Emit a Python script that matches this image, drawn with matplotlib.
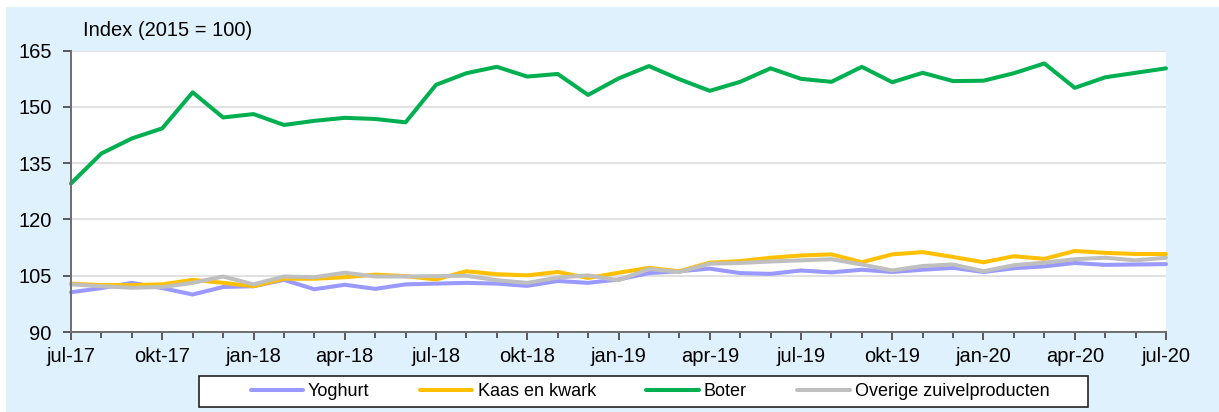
import matplotlib
matplotlib.use('Agg')
import matplotlib.pyplot as plt
from matplotlib.patches import Rectangle
from matplotlib.ticker import MultipleLocator

# maanden jul-17 t/m jul-20
tick_labels = ['jul-17', 'okt-17', 'jan-18', 'apr-18', 'jul-18', 'okt-18', 'jan-19',
               'apr-19', 'jul-19', 'okt-19', 'jan-20', 'apr-20', 'jul-20']

yoghurt = [100.6, 101.7, 103.1, 101.7, 100.0, 102.0, 102.2, 103.9, 101.4, 102.6, 101.5, 102.7,
           102.9, 103.1, 102.9, 102.3, 103.6, 103.1, 104.0, 105.7, 106.2, 106.9, 105.7, 105.5,
           106.4, 105.9, 106.6, 106.0, 106.6, 107.1, 106.0, 107.0, 107.5, 108.4, 107.9, 108.0, 108.1]
kaas = [102.9, 102.5, 102.5, 102.7, 103.9, 103.1, 102.2, 104.2, 104.2, 104.6, 105.3, 104.9,
        104.0, 106.2, 105.4, 105.1, 106.0, 104.4, 105.8, 107.1, 106.2, 108.5, 108.9, 109.8,
        110.4, 110.7, 108.6, 110.7, 111.3, 110.0, 108.6, 110.2, 109.5, 111.6, 111.1, 110.8, 110.8]
boter = [129.6, 137.6, 141.6, 144.3, 153.9, 147.2, 148.1, 145.2, 146.3, 147.1, 146.8, 145.9,
         155.9, 159.0, 160.7, 158.1, 158.8, 153.2, 157.6, 160.9, 157.4, 154.3, 156.7, 160.3,
         157.5, 156.7, 160.7, 156.6, 159.1, 156.9, 157.0, 159.0, 161.6, 155.1, 157.9, 159.1, 160.3]
overige = [102.7, 102.2, 101.8, 102.0, 103.1, 104.8, 102.7, 104.8, 104.6, 105.8, 104.8, 104.8,
           104.9, 105.0, 103.8, 103.1, 104.5, 105.1, 103.8, 106.8, 106.0, 108.2, 108.4, 108.8,
           109.1, 109.4, 108.0, 106.4, 107.6, 108.0, 106.2, 107.8, 108.5, 109.4, 109.8, 109.1, 109.8]

series = [('Yoghurt', yoghurt, '#9999FF'),
          ('Kaas en kwark', kaas, '#FFC000'),
          ('Boter', boter, '#00B050'),
          ('Overige zuivelproducten', overige, '#BFBFBF')]

plt.rcParams['font.family'] = ['Liberation Sans', 'DejaVu Sans']

W, H = 1219, 412
fig = plt.figure(figsize=(W / 100, H / 100), dpi=100)
fig.patch.set_facecolor('white')
fig.add_artist(Rectangle((6 / W, 0), 1, (H - 7) / H, transform=fig.transFigure,
                         facecolor='#DFF1FC', edgecolor='none', zorder=0))

ax = fig.add_axes([71 / W, 1 - 332 / H, (1166 - 71) / W, (332 - 50.7) / H])
ax.set_facecolor('white')

months = list(range(len(boter)))
lines = []
for name, vals, col in series:
    ln, = ax.plot(months, vals, color=col, lw=2.9, label=name,
                  solid_joinstyle='round', solid_capstyle='round', clip_on=False)
    lines.append(ln)

ax.set_xlim(0, len(boter) - 1)
ax.set_ylim(90, 165)
ax.set_yticks([90, 105, 120, 135, 150, 165])
ax.set_xticks(range(0, len(boter), 3))
ax.set_xticklabels(tick_labels)
ax.xaxis.set_minor_locator(MultipleLocator(1))
ax.tick_params(axis='both', which='major', labelsize=14.5, colors='#404040',
               labelcolor='black', length=6, width=1.2)
ax.tick_params(axis='x', which='minor', length=4, width=1.2, colors='#404040')
ax.tick_params(axis='y', pad=8)
ax.tick_params(axis='x', pad=5)

ax.grid(axis='y', color='#DCDCDC', lw=1.2)
ax.set_axisbelow(True)
for s in ['top', 'right']:
    ax.spines[s].set_visible(False)
for s in ['left', 'bottom']:
    ax.spines[s].set_color('#6E6E6E')
    ax.spines[s].set_linewidth(1.4)

fig.text(83 / W, 1 - 30 / H, 'Index (2015 = 100)', fontsize=14.5, ha='left', va='center')

# legenda met eigen kader
fig.add_artist(Rectangle((199 / W, 1 - 407 / H), (1088 - 199) / W, 31 / H,
                         transform=fig.transFigure, facecolor='white',
                         edgecolor='#222222', lw=1.2, zorder=1))
leg = fig.legend(handles=lines, loc='center', bbox_to_anchor=(650 / W, 1 - 391.5 / H),
                 ncol=4, frameon=False, fontsize=13, handlelength=2.9,
                 handletextpad=0.28, columnspacing=2.8)
leg.set_zorder(2)

fig.savefig('out.png', dpi=100)
